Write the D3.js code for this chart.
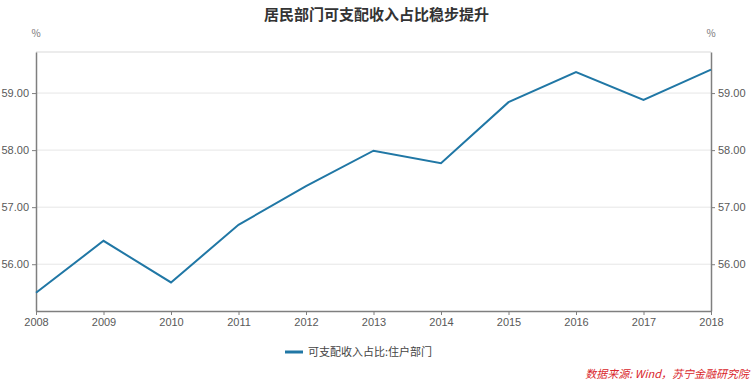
<!DOCTYPE html>
<html>
<head>
<meta charset="utf-8">
<script src="https://cdn.jsdelivr.net/npm/d3@7"></script>
<style>
  body { margin: 0; background: #fff; }
  svg { font-family: "Noto Sans CJK SC", "Noto Sans", sans-serif; }
</style>
</head>
<body>
<div class="container"></div>
<script>
// data
var years = [2008, 2009, 2010, 2011, 2012, 2013, 2014, 2015, 2016, 2017, 2018];
var shares = [55.50, 56.41, 55.68, 56.69, 57.37, 57.99, 57.77, 58.84, 59.37, 58.88, 59.41];
var yTicks = [56, 57, 58, 59];
var seriesName = '可支配收入占比:住户部门';
var title = '居民部门可支配收入占比稳步提升';
var source = '数据来源: Wind，苏宁金融研究院';

var W = 753, H = 383;
var margin = {top: 52, right: 42, bottom: 72, left: 36},
	width = W - margin.left - margin.right,
	height = H - margin.top - margin.bottom;

var x_scale = d3.scaleLinear()
	.domain([2008, 2018])
	.range([0, width]);

var y_scale = d3.scaleLinear()
	.domain([55.18, 59.72])
	.range([height, 0]);

var svg = d3.select('.container').append('svg')
	.attr('width', W)
	.attr('height', H);

// title
svg.append('text')
	.attr('x', W / 2)
	.attr('y', 20)
	.attr('text-anchor', 'middle')
	.attr('font-size', 15)
	.attr('font-weight', 'bold')
	.attr('fill', '#333')
	.text(title);

var canvas = svg.append('g')
	.attr('transform', 'translate(' + margin.left + ',' + margin.top + ')');

// gridlines
canvas.append('g')
	.selectAll('line')
	.data(yTicks)
	.enter()
	.append('line')
	.attr('x1', 0)
	.attr('x2', width)
	.attr('y1', function(d) { return y_scale(d); })
	.attr('y2', function(d) { return y_scale(d); })
	.attr('stroke', '#e6e6e6')
	.attr('stroke-width', 1);

// top border
canvas.append('line')
	.attr('x1', 0).attr('x2', width)
	.attr('y1', 0).attr('y2', 0)
	.attr('stroke', '#ececec')
	.attr('stroke-width', 2);

var fmt = function(d) { return d3.format('.2f')(d); };

var y_left = d3.axisLeft(y_scale).tickValues(yTicks).tickFormat(fmt).tickSize(4).tickSizeOuter(0);
var y_right = d3.axisRight(y_scale).tickValues(yTicks).tickFormat(fmt).tickSize(4).tickSizeOuter(0);
var x_axis = d3.axisBottom(x_scale).tickValues(years).tickFormat(d3.format('d')).tickSize(4).tickSizeOuter(0);

function styleAxis(g) {
	g.select('.domain').attr('stroke', '#7f7f7f').attr('stroke-width', 1.5);
	g.selectAll('.tick line').attr('stroke', '#7f7f7f');
	g.selectAll('.tick text').attr('fill', '#595959').attr('font-size', 11);
}

canvas.append('g').call(y_left).call(styleAxis);
canvas.append('g').attr('transform', 'translate(' + width + ',0)').call(y_right).call(styleAxis);
canvas.append('g').attr('transform', 'translate(0,' + height + ')').call(x_axis).call(styleAxis);

// unit labels
canvas.append('text').attr('x', 0).attr('y', -15).attr('text-anchor', 'middle')
	.attr('font-size', 10).attr('fill', '#777').text('%');
canvas.append('text').attr('x', width).attr('y', -15).attr('text-anchor', 'middle')
	.attr('font-size', 10).attr('fill', '#777').text('%');

// line
var lineFunction = d3.line()
	.x(function(d, i) { return x_scale(years[i]); })
	.y(function(d) { return y_scale(d); });

canvas.append('path')
	.attr('d', lineFunction(shares))
	.attr('fill', 'none')
	.attr('stroke', '#2077a5')
	.attr('stroke-width', 2);

// legend
var legend = svg.append('g').attr('transform', 'translate(285,352)');
legend.append('line')
	.attr('x1', 0).attr('x2', 18)
	.attr('stroke', '#2077a5').attr('stroke-width', 3);
legend.append('text')
	.attr('x', 23).attr('y', 4)
	.attr('font-size', 11).attr('fill', '#444')
	.text(seriesName);

// source note
svg.append('text')
	.attr('x', W - 4).attr('y', 378)
	.attr('text-anchor', 'end')
	.attr('font-size', 11)
	.attr('font-style', 'italic')
	.attr('fill', '#d9262b')
	.text(source);
</script>
</body>
</html>
